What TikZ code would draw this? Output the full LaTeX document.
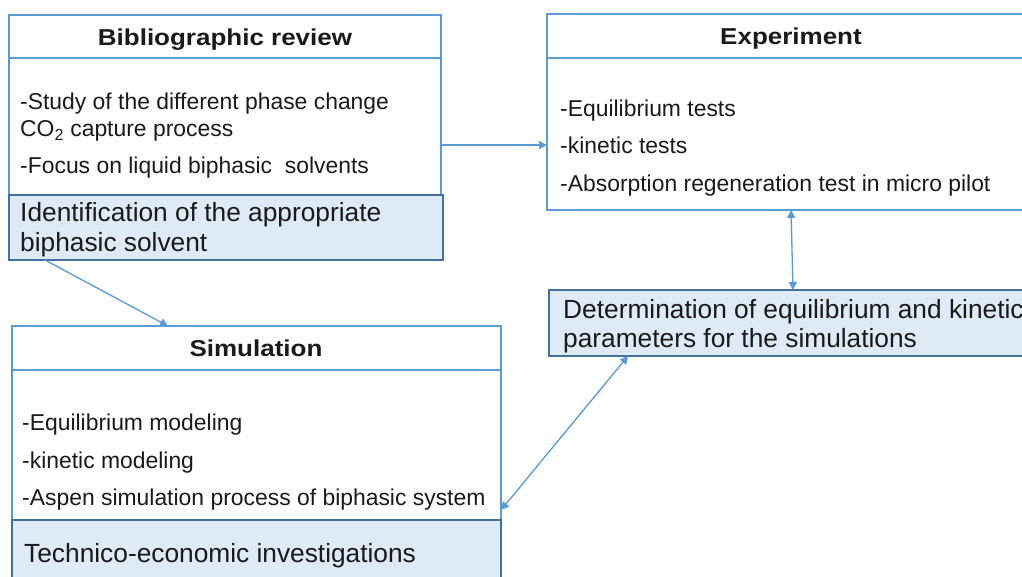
\documentclass[tikz,border=0pt]{standalone}
\usepackage{fontspec}
\setmainfont{Liberation Sans}
\usetikzlibrary{arrows.meta}
\definecolor{lineblue}{HTML}{5B9BD5}
\definecolor{darkblue}{HTML}{41719C}
\definecolor{fillblue}{HTML}{DEEAF6}
\definecolor{txt}{HTML}{1A1A1A}
\begin{document}
\begin{tikzpicture}[x=1pt,y=-1pt,
  whitebox/.style={rectangle,draw=lineblue,line width=2.6pt,fill=white,anchor=north west,inner sep=0pt,outer sep=0pt},
  bluebox/.style={rectangle,draw=darkblue,line width=2.2pt,fill=fillblue,anchor=north west,inner sep=0pt,outer sep=0pt},
  hdrtext/.style={anchor=base,inner sep=0pt,text=txt,font=\fontsize{23}{27}\selectfont\bfseries},
  bodytext/.style={anchor=base west,inner sep=0pt,text=txt,font=\fontsize{22.9}{27}\selectfont},
  bigtext/.style={anchor=base west,inner sep=0pt,text=txt,font=\fontsize{26.3}{30}\selectfont},
  arr/.style={draw=lineblue,line width=1.3pt,-{Triangle[length=8pt,width=8pt]}},
  darr/.style={draw=lineblue,line width=1.3pt,{Triangle[length=8pt,width=8pt]}-{Triangle[length=8pt,width=8pt]}}]
\clip (0,0) rectangle (1022,577);
\fill[white] (0,0) rectangle (1022,577);
% Bibliographic review
\node[whitebox,minimum width=432pt,minimum height=43pt] (bibHead) at (9,15) {};
\node[whitebox,minimum width=432pt,minimum height=137pt] (bibBody) at (9,58) {};
\node[bluebox,minimum width=434pt,minimum height=65pt] (bibId) at (9,195) {};
\node[hdrtext] (bibT) at (225,46) {\scalebox{1.13}[1]{Bibliographic review}};
\node[bodytext] (b1) at (20,110) {-Study of the different phase change};
\node[bodytext] (b2) at (20,137) {CO\textsubscript{2} capture process};
\node[bodytext] (b3) at (20,174) {-Focus on liquid biphasic\ \ solvents};
\node[bigtext] (i1) at (20,222) {Identification of the appropriate};
\node[bigtext] (i2) at (20,252) {biphasic solvent};
% Experiment
\node[whitebox,minimum width=488pt,minimum height=44pt] (expHead) at (547,14) {};
\node[whitebox,minimum width=488pt,minimum height=152pt] (expBody) at (547,58) {};
\node[hdrtext] (expT) at (791,45) {\scalebox{1.13}[1]{Experiment}};
\node[bodytext] (e1) at (560,117) {-Equilibrium tests};
\node[bodytext] (e2) at (560,154) {-kinetic tests};
\node[bodytext] (e3) at (560,192) {-Absorption regeneration test in micro pilot};
% Determination
\node[bluebox,minimum width=491pt,minimum height=66pt] (det) at (549,290) {};
\node[bigtext] (d1) at (563,318) {Determination of equilibrium and kinetic};
\node[bigtext] (d2) at (563,347) {parameters for the simulations};
% Simulation
\node[whitebox,minimum width=489pt,minimum height=44pt] (simHead) at (12,326) {};
\node[whitebox,minimum width=489pt,minimum height=150pt] (simBody) at (12,370) {};
\node[bluebox,minimum width=489pt,minimum height=70pt] (simTech) at (12,520) {};
\node[hdrtext] (simT) at (256,356) {\scalebox{1.13}[1]{Simulation}};
\node[bodytext] (s1) at (22,430) {-Equilibrium modeling};
\node[bodytext] (s2) at (22,468) {-kinetic modeling};
\node[bodytext] (s3) at (22,505) {-Aspen simulation process of biphasic system};
\node[bigtext] (t1) at (24,562) {Technico-economic investigations};
% connectors
\draw[arr] ([yshift=-18.5pt]bibBody.east) -- ([yshift=-11pt]expBody.west);
\draw[arr] ([xshift=-181pt]bibId.south) -- ([xshift=-88.5pt]simHead.north);
\draw[darr] (expBody.south) -- ([xshift=-1.5pt]det.north);
\draw[darr] ([xshift=-166.5pt]det.south) -- ([yshift=-65pt]simBody.east);
\end{tikzpicture}
\end{document}
